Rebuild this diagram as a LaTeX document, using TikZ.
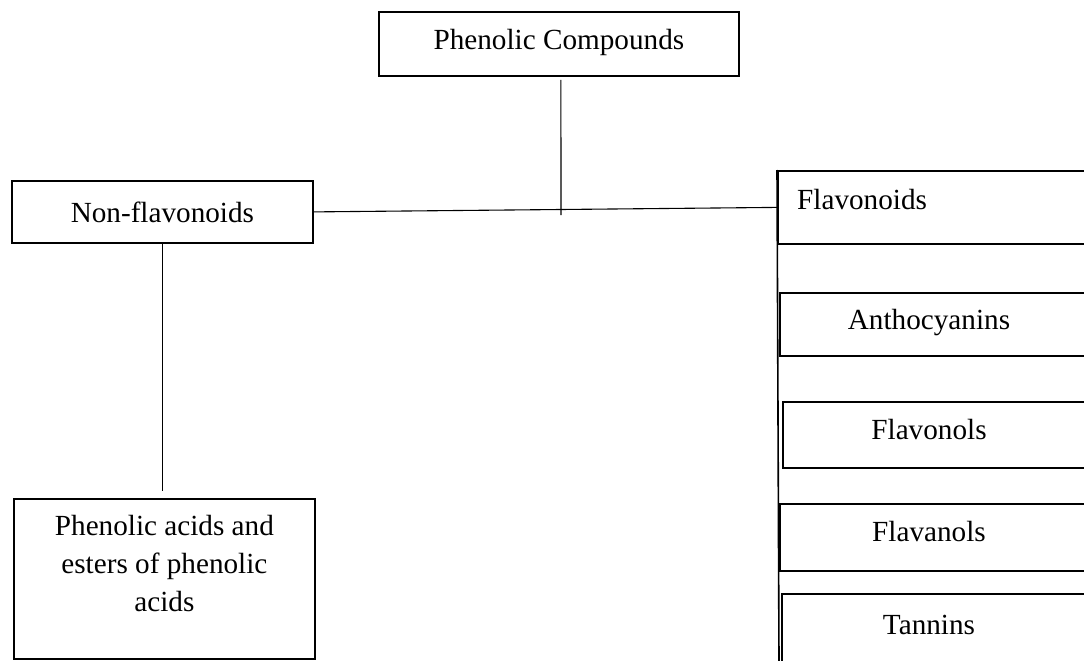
\documentclass[tikz,border=0pt]{standalone}
\usepackage{fontspec}
\setmainfont{Liberation Serif}
\usetikzlibrary{calc}
\tikzset{
  x=1pt, y=1pt,
  box/.style={draw, line width=1.8pt, rectangle, inner sep=0pt, anchor=north west},
  lbl/.style={inner sep=0pt, font=\fontsize{29.2}{38}\selectfont, align=center},
  conn/.style={line width=1.1pt}
}
\begin{document}
\begin{tikzpicture}
\useasboundingbox (0,0) rectangle (1084,-661);
\clip (0,0) rectangle (1084,-661);
% top
\node[box, minimum width=360, minimum height=64] (pc) at (378,-11) {};
\node[lbl] (pct) at ($(pc.center)+(0,1)$) {Phenolic Compounds};
% non-flavonoids
\node[box, minimum width=301, minimum height=62] (nf) at (11,-180) {};
\node[lbl] (nft) at ($(nf.center)+(0,0)$) {Non-flavonoids};
\node[box, minimum width=301, minimum height=160] (pa) at (13,-498) {};
\node[lbl, anchor=north] (pat) at ($(pa.north)+(0,-17)$) {Phenolic acids and\\esters of phenolic\\acids};
% flavonoids column
\node[box, minimum width=320, minimum height=73] (fl) at (777,-170) {};
\node[lbl, anchor=west] (flt) at ($(fl.west)+(20,8)$) {Flavonoids};
\node[box, minimum width=320, minimum height=63] (an) at (779,-292) {};
\node[lbl] (ant) at (929,-323) {Anthocyanins};
\node[box, minimum width=320, minimum height=66] (fo) at (782,-401) {};
\node[lbl] (fot) at (929,-430) {Flavonols};
\node[box, minimum width=320, minimum height=67] (fa) at (779,-503) {};
\node[lbl] (fat) at (929,-532) {Flavanols};
\node[box, minimum width=320, minimum height=120] (ta) at (781,-593) {};
\node[lbl] (tat) at (929,-625) {Tannins};
% connectors
\coordinate (pcend) at (561,-215);
\draw[conn] ([xshift=2pt,yshift=-3pt]pc.south) -- (pcend);
\draw[conn] (nf.east) -- (fl.west);
\coordinate (paend) at (162,-491);
\draw[conn] (nf.south) -- (nf.south |- paend);
\coordinate (colend) at (779,-661);
\draw[line width=1.6pt] (fl.north west) -- (colend);
\end{tikzpicture}
\end{document}
